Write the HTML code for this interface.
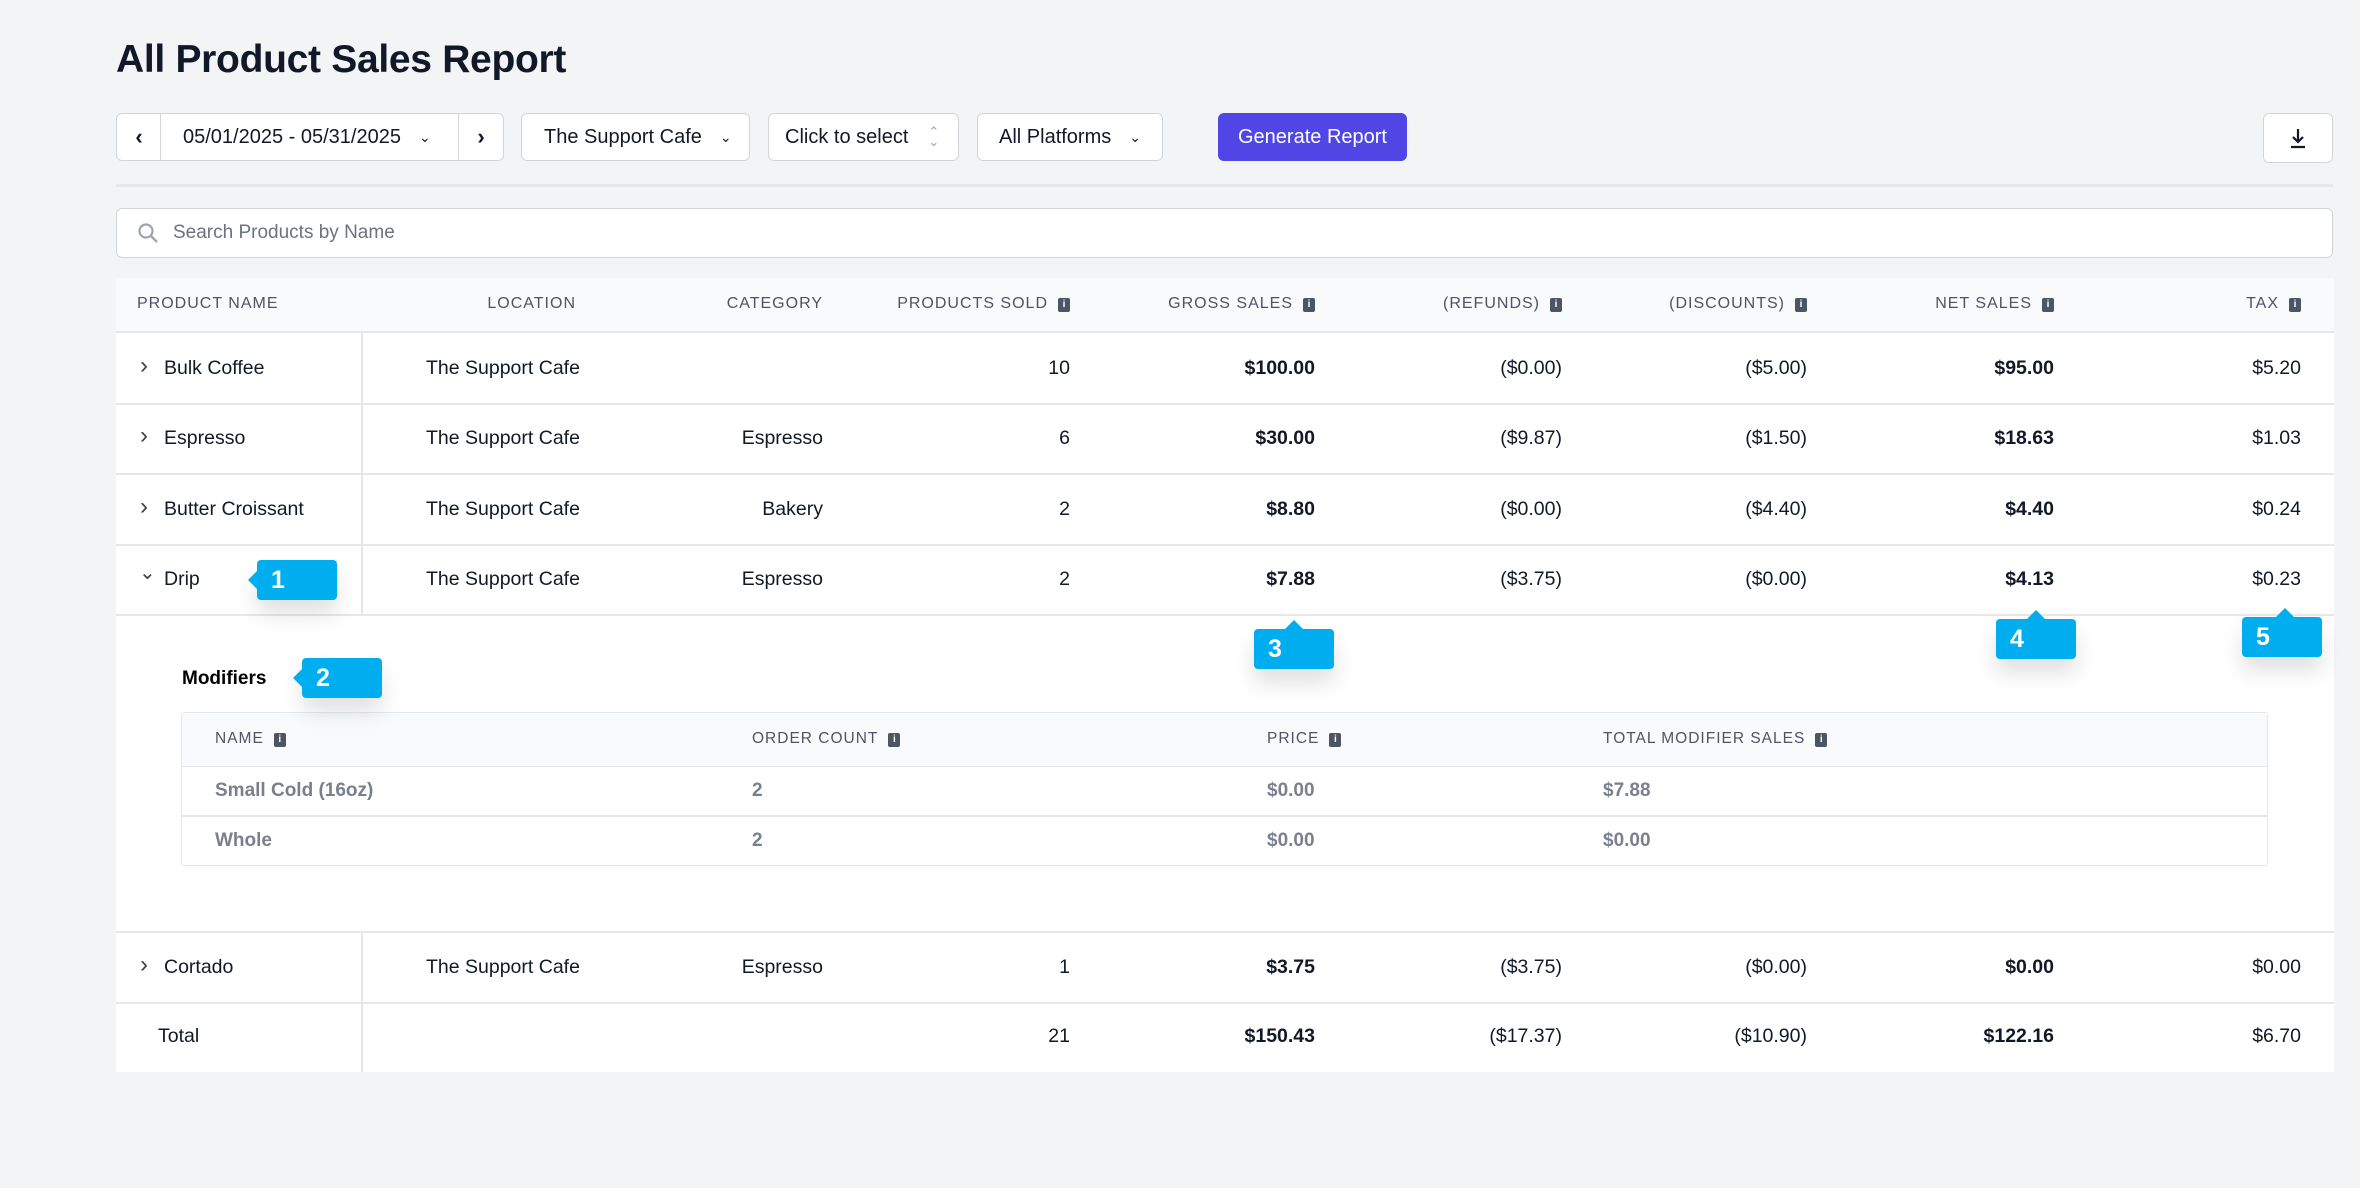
<!DOCTYPE html>
<html><head><meta charset="utf-8">
<style>
*{box-sizing:border-box;margin:0;padding:0}
body{width:2360px;height:1188px;background:#f3f4f6;font-family:"Liberation Sans",sans-serif;position:relative;overflow:hidden;color:#111827}
.abs{position:absolute}
.btn{position:absolute;background:#fff;border:1.5px solid #d1d5db;border-radius:6px;display:flex;align-items:center;font-size:20px;color:#111827}
.cell{position:absolute;font-size:19.5px;white-space:nowrap;line-height:24px}
.hd{position:absolute;font-size:16px;letter-spacing:1px;color:#4b5563;white-space:nowrap;line-height:20px}
.ic{display:inline-block;width:12px;height:14px;background:#4b5563;border-radius:2px;color:#fff;font-size:10px;line-height:14px;text-align:center;margin-left:10px;vertical-align:1px;letter-spacing:0;font-weight:bold}
.b{font-weight:bold}
.tag{position:absolute;background:#00aeef;border-radius:4px;color:#fff;font-weight:bold;font-size:25px;line-height:40px;padding-left:14px;width:80px;height:40px;box-shadow:0 14px 22px rgba(0,0,0,.12)}
</style></head><body>
<div class="abs" style="left:116px;top:38px;font-size:39px;font-weight:bold;letter-spacing:-0.3px">All Product Sales Report</div>

<div class="btn" style="left:116px;top:113px;width:46px;height:48px;border-radius:6px 0 0 6px;justify-content:center;font-size:22px;font-weight:bold">‹</div>
<div class="btn" style="left:160px;top:113px;width:300px;height:48px;border-radius:0;padding-left:22px">05/01/2025 - 05/31/2025<span style="margin-left:18px;font-size:14px">⌄</span></div>
<div class="btn" style="left:458px;top:113px;width:46px;height:48px;border-radius:0 6px 6px 0;justify-content:center;font-size:22px;font-weight:bold">›</div>
<div class="btn" style="left:521px;top:113px;width:229px;height:48px;padding-left:22px">The Support Cafe<span style="margin-left:18px;font-size:14px">⌄</span></div>
<div class="btn" style="left:768px;top:113px;width:191px;height:48px;padding-left:16px">Click to select<span style="margin-left:20px;font-size:13px;color:#9ca3af;line-height:10px;text-align:center">⌃<br>⌄</span></div>
<div class="btn" style="left:977px;top:113px;width:186px;height:48px;padding-left:21px">All Platforms<span style="margin-left:18px;font-size:14px">⌄</span></div>
<div class="btn" style="left:1218px;top:113px;width:189px;height:48px;background:#4f46e5;border-color:#4f46e5;color:#fff;justify-content:center">Generate Report</div>
<div class="btn" style="left:2263px;top:113px;width:70px;height:50px;justify-content:center">
<svg width="20" height="24" viewBox="0 0 20 24"><path d="M10 3v13M5 11l5 5 5-5M3 21h14" stroke="#111827" stroke-width="2.2" fill="none"/></svg></div>

<div class="abs" style="left:116px;top:184px;width:2217px;height:3px;background:#e5e7eb"></div>

<div class="btn" style="left:116px;top:208px;width:2217px;height:50px;padding-left:20px;color:#6b7280;font-size:19px">
<svg width="22" height="22" viewBox="0 0 22 22" style="margin-right:14px"><circle cx="9" cy="9" r="6.5" stroke="#9ca3af" stroke-width="2.2" fill="none"/><path d="M14 14l6 6" stroke="#9ca3af" stroke-width="2.4"/></svg>Search Products by Name</div>

<div class="abs" style="left:116px;top:278px;width:2218px;height:794px;background:#fff"></div>
<div class="abs" style="left:116px;top:278px;width:2218px;height:55px;background:#f9fafb;border-bottom:2px solid #e5e7eb"></div>
<div class="abs" style="left:181px;top:712px;width:2087px;height:154px;border:1.5px solid #e5e7eb;border-radius:3px"></div>
<div class="abs" style="left:182px;top:713px;width:2085px;height:54px;background:#f9fafb;border-bottom:1.5px solid #e5e7eb"></div>
<div class="abs" style="left:182px;top:815px;width:2085px;height:1.5px;background:#e5e7eb"></div>
<div class="abs" style="left:182px;top:668px;font-size:19px;font-weight:bold;color:#000">Modifiers</div>
<div class="abs" style="left:116px;top:931px;width:2218px;height:1.5px;background:#e5e7eb"></div>

<div id="root"></div>

<div class="tag" style="left:257px;top:560px">1<span style="position:absolute;left:-9px;top:11px;border:9px solid transparent;border-left:0;border-right-color:#00aeef"></span></div>
<div class="tag" style="left:302px;top:658px">2<span style="position:absolute;left:-9px;top:11px;border:9px solid transparent;border-left:0;border-right-color:#00aeef"></span></div>
<div class="tag" style="left:1254px;top:629px">3<span style="position:absolute;left:31px;top:-9px;border:9px solid transparent;border-top:0;border-bottom-color:#00aeef"></span></div>
<div class="tag" style="left:1996px;top:619px">4<span style="position:absolute;left:31px;top:-9px;border:9px solid transparent;border-top:0;border-bottom-color:#00aeef"></span></div>
<div class="tag" style="left:2242px;top:617px">5<span style="position:absolute;left:34px;top:-9px;border:9px solid transparent;border-top:0;border-bottom-color:#00aeef"></span></div>

<script>
const root=document.getElementById('root');
const headers=["PRODUCT NAME","LOCATION","CATEGORY","PRODUCTS SOLD","GROSS SALES","(REFUNDS)","(DISCOUNTS)","NET SALES","TAX"];
const hasInfo=[0,0,0,1,1,1,1,1,1];
const colRight=[0,576,823,1070,1315,1562,1807,2054,2301];
const products=["Bulk Coffee","Espresso","Butter Croissant","Drip","Cortado","Total"];
const categories=["","Espresso","Bakery","Espresso","Espresso",""];
const sold=["10","6","2","2","1","21"];
const gross=["$100.00","$30.00","$8.80","$7.88","$3.75","$150.43"];
const refunds=["($0.00)","($9.87)","($0.00)","($3.75)","($3.75)","($17.37)"];
const discounts=["($5.00)","($1.50)","($4.40)","($0.00)","($0.00)","($10.90)"];
const net=["$95.00","$18.63","$4.40","$4.13","$0.00","$122.16"];
const tax=["$5.20","$1.03","$0.24","$0.23","$0.00","$6.70"];
const rowTop=[333,403,474,544,932,1001];
const rowH=70;
const modNames=["Small Cold (16oz)","Whole"];
const modCounts=["2","2"];
const modPrice=["$0.00","$0.00"];
const modTotal=["$7.88","$0.00"];

function mk(cls,txt,style){const d=document.createElement('div');d.className=cls;d.innerHTML=txt;d.style.cssText=style;root.appendChild(d);return d;}

headers.forEach((h,i)=>{
  const t=h+(hasInfo[i]?'<span class="ic">i</span>':'');
  const st=i===0?'left:137px;top:294px':'right:'+(2360-colRight[i])+'px;top:294px';
  const d=mk('hd',t,st);
  
  
});

products.forEach((p,r)=>{
  const top=rowTop[r];
  const ty=top+23;
  if(r<5){
    const line=mk('abs','','left:116px;top:'+(top+rowH)+'px;width:2218px;height:1.5px;background:#e5e7eb');
    
    
  }
  const vd=mk('abs','','left:361px;top:'+top+'px;width:1.5px;height:'+(rowH+1)+'px;background:#e5e7eb');
  
  
  if(r<5){
    const ch=mk('cell',r===3?'⌄':'›','left:'+(r===3?139:140)+'px;top:'+(r===3?ty-6:ty-2)+'px;font-size:'+(r===3?20:24)+'px;color:#374151');
    
    
  }
  const nm=mk('cell',p,'left:'+(r<5?164:158)+'px;top:'+ty+'px');
  
  
  if(r<5){
    const lc=mk('cell','The Support Cafe','left:426px;top:'+ty+'px');
    
    
  }
  const vals=[null,null,categories[r],sold[r],gross[r],refunds[r],discounts[r],net[r],tax[r]];
  for(let c=2;c<9;c++){
    if(!vals[c])continue;
    const d=mk('cell'+((c===4||c===7)?' b':''),vals[c],'right:'+(2360-colRight[c])+'px;top:'+ty+'px');
    
    
  }
});

const modHead=["NAME","ORDER COUNT","PRICE","TOTAL MODIFIER SALES"];
const modX=[215,752,1267,1603];
modHead.forEach((h,i)=>{
  const d=mk('hd',h+'<span class="ic">i</span>','left:'+modX[i]+'px;top:729px;font-size:15.5px');
  
  
});
modNames.forEach((n,r)=>{
  const ty=779+r*50;
  const vals=[n,modCounts[r],modPrice[r],modTotal[r]];
  vals.forEach((v,c)=>{
    const d=mk('cell',v,'left:'+modX[c]+'px;top:'+ty+'px;font-size:19px;color:#6b7280;font-weight:bold;opacity:.9');
    
    
  });
});
</script>
</body></html>
